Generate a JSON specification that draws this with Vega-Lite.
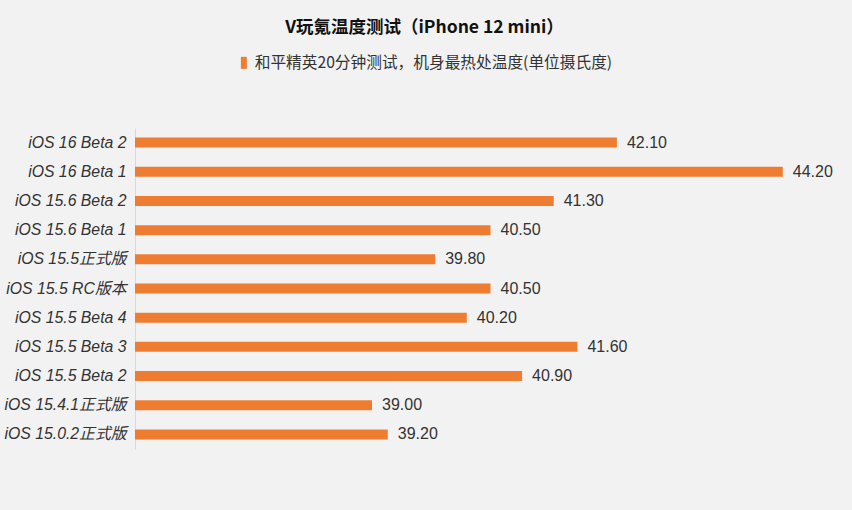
{
  "$schema": "https://vega.github.io/schema/vega-lite/v6.json",
  "width": 711,
  "height": 321,
  "autosize": {"type": "none"},
  "padding": {"left": 135, "top": 128, "right": 6, "bottom": 61},
  "background": "#F2F2F2",
  "title": {
    "text": "V玩氪温度测试（iPhone 12 mini）",
    "font": "Noto Sans CJK SC",
    "fontSize": 17.5,
    "fontWeight": "bold",
    "color": "#111111",
    "anchor": "middle",
    "frame": "group",
    "dx": -66,
    "offset": 19
  },
  "data": {
    "values": [
      {"version": "iOS 16 Beta 2", "temp": 42.10, "series": "和平精英20分钟测试，机身最热处温度(单位摄氏度)"},
      {"version": "iOS 16 Beta 1", "temp": 44.20, "series": "和平精英20分钟测试，机身最热处温度(单位摄氏度)"},
      {"version": "iOS 15.6 Beta 2", "temp": 41.30, "series": "和平精英20分钟测试，机身最热处温度(单位摄氏度)"},
      {"version": "iOS 15.6 Beta 1", "temp": 40.50, "series": "和平精英20分钟测试，机身最热处温度(单位摄氏度)"},
      {"version": "iOS 15.5正式版", "temp": 39.80, "series": "和平精英20分钟测试，机身最热处温度(单位摄氏度)"},
      {"version": "iOS 15.5 RC版本", "temp": 40.50, "series": "和平精英20分钟测试，机身最热处温度(单位摄氏度)"},
      {"version": "iOS 15.5 Beta 4", "temp": 40.20, "series": "和平精英20分钟测试，机身最热处温度(单位摄氏度)"},
      {"version": "iOS 15.5 Beta 3", "temp": 41.60, "series": "和平精英20分钟测试，机身最热处温度(单位摄氏度)"},
      {"version": "iOS 15.5 Beta 2", "temp": 40.90, "series": "和平精英20分钟测试，机身最热处温度(单位摄氏度)"},
      {"version": "iOS 15.4.1正式版", "temp": 39.00, "series": "和平精英20分钟测试，机身最热处温度(单位摄氏度)"},
      {"version": "iOS 15.0.2正式版", "temp": 39.20, "series": "和平精英20分钟测试，机身最热处温度(单位摄氏度)"}
    ]
  },
  "encoding": {
    "y": {
      "field": "version",
      "type": "nominal",
      "sort": null,
      "scale": {"paddingInner": 0, "paddingOuter": 0},
      "axis": {
        "title": null,
        "ticks": false,
        "domainColor": "#D9D9D9",
        "domainWidth": 1,
        "labelPadding": 9,
        "labelFont": "Liberation Sans, Noto Sans CJK SC",
        "labelFontStyle": "italic",
        "labelFontSize": 15.8,
        "labelColor": "#333333",
        "labelLimit": 200
      }
    },
    "x": {
      "field": "temp",
      "type": "quantitative",
      "scale": {"domain": [36, 45], "zero": false, "nice": false, "clamp": true},
      "axis": null
    }
  },
  "layer": [
    {
      "mark": {"type": "bar", "size": 10},
      "encoding": {
        "color": {
          "field": "series",
          "type": "nominal",
          "scale": {"range": ["#EE7D31"]},
          "legend": {
            "title": null,
            "orient": "none",
            "legendX": 101,
            "legendY": -73,
            "padding": 0,
            "symbolType": "M-0.5,-1H0.5V1H-0.5Z",
            "symbolSize": 144,
            "symbolStrokeWidth": 0,
            "labelOffset": 3,
            "labelFont": "Noto Sans CJK SC",
            "labelFontSize": 15.7,
            "labelColor": "#333333",
            "labelLimit": 600
          }
        }
      }
    },
    {
      "mark": {"type": "text", "align": "left", "baseline": "middle", "dx": 10, "font": "Liberation Sans", "fontSize": 16, "color": "#333333"},
      "encoding": {
        "text": {"field": "temp", "type": "quantitative", "format": ".2f"}
      }
    }
  ],
  "config": {
    "view": {"stroke": null}
  }
}
